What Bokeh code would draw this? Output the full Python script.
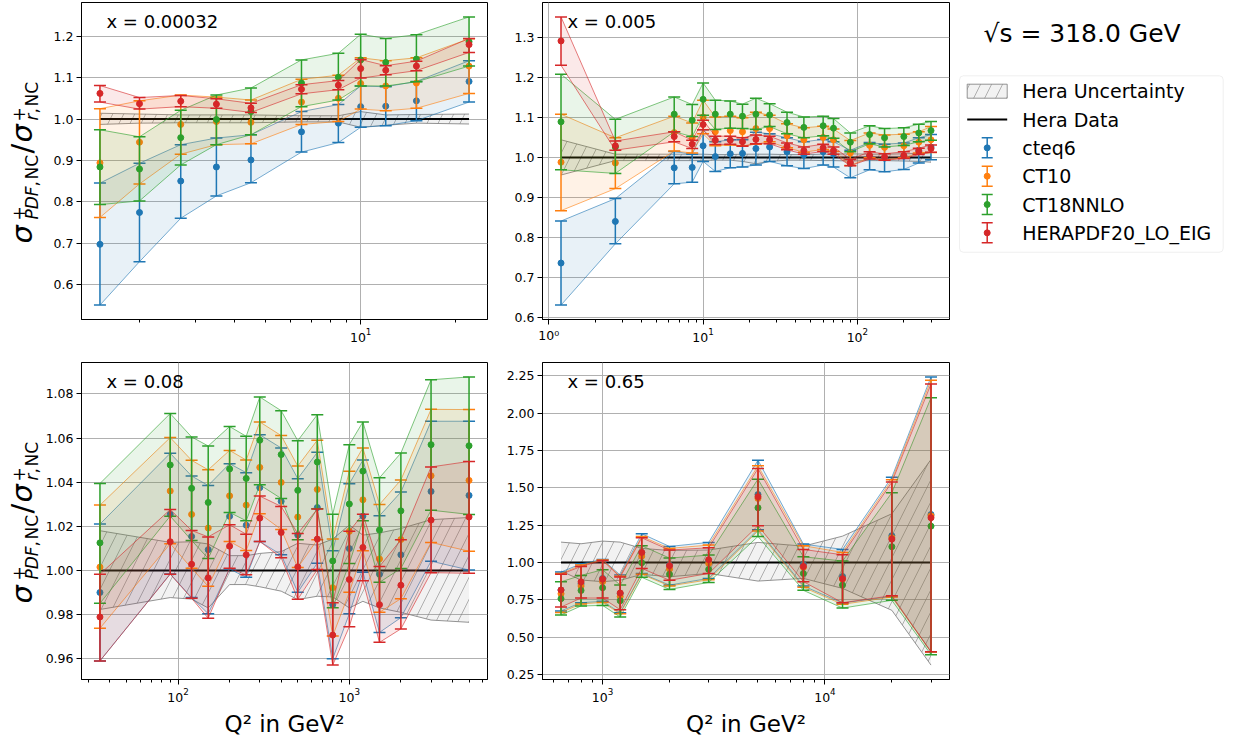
import numpy as np
from bokeh.plotting import figure
from bokeh.layouts import row, column
from bokeh.models import Range1d, FixedTicker, NumeralTickFormatter, Label, BoxAnnotation
from bokeh.embed import file_html
from bokeh.resources import INLINE
from bokeh.core.properties import value

FONT = "DejaVu Sans"
SERIES = ["cteq6", "CT10", "CT18NNLO", "HERAPDF20_LO_EIG"]
SERIES_COLORS = ["#1f77b4", "#ff7f0e", "#2ca02c", "#d62728"]
HERA_LABELS = ["Hera Uncertainty", "Hera Data"]
HERA_DATA_RATIO = 1.0
TITLE = "√s = 318.0 GeV"
XLABEL = "Q² in GeV²"

# ---------------- panel 1 : x = 0.00032 ----------------
P1_X = "x = 0.00032"
P1_Q2 = [1.5, 2, 2.7, 3.5, 4.5, 6.5, 8.5, 10, 12, 15, 22]
P1_HERA_LO = [0.987, 0.990, 0.991, 0.991, 0.991, 0.993, 0.993, 0.980, 0.985, 0.990, 0.988]
P1_HERA_HI = [1.014, 1.012, 1.010, 1.010, 1.010, 1.008, 1.008, 1.018, 1.010, 1.011, 1.012]
P1_CTEQ6 = [0.697, 0.774, 0.850, 0.884, 0.901, 0.969, 0.990, 1.030, 1.031, 1.044, 1.091]
P1_CTEQ6_LO = [0.550, 0.655, 0.760, 0.814, 0.846, 0.920, 0.943, 0.980, 0.984, 0.996, 1.041]
P1_CTEQ6_HI = [0.845, 0.893, 0.938, 0.954, 0.962, 1.018, 1.035, 1.080, 1.078, 1.091, 1.141]
P1_CT10 = [0.894, 0.944, 0.987, 0.994, 0.992, 1.041, 1.050, 1.086, 1.080, 1.087, 1.128]
P1_CT10_LO = [0.762, 0.843, 0.915, 0.938, 0.940, 0.987, 0.994, 1.024, 1.020, 1.026, 1.062]
P1_CT10_HI = [1.025, 1.044, 1.058, 1.053, 1.046, 1.096, 1.106, 1.148, 1.141, 1.148, 1.194]
P1_CT18 = [0.884, 0.879, 0.955, 0.999, 1.018, 1.087, 1.101, 1.143, 1.137, 1.145, 1.187]
P1_CT18_LO = [0.793, 0.802, 0.889, 0.938, 0.962, 1.030, 1.046, 1.080, 1.080, 1.090, 1.128]
P1_CT18_HI = [0.974, 0.957, 1.021, 1.058, 1.075, 1.143, 1.159, 1.205, 1.195, 1.204, 1.247]
P1_HERAPDF = [1.062, 1.037, 1.043, 1.036, 1.027, 1.072, 1.082, 1.122, 1.118, 1.128, 1.180]
P1_HERAPDF_LO = [1.041, 1.024, 1.030, 1.026, 1.016, 1.061, 1.071, 1.099, 1.107, 1.117, 1.161]
P1_HERAPDF_HI = [1.081, 1.052, 1.057, 1.049, 1.038, 1.083, 1.093, 1.144, 1.129, 1.140, 1.195]

# ---------------- panel 2 : x = 0.005 ----------------
P2_X = "x = 0.005"
P2_Q2 = [1.2, 2.7, 6.5, 8.5, 10, 12, 15, 18, 22, 27, 35, 45, 60, 70, 90, 120, 150, 200, 250, 300]
P2_HERA_LO = [0.956, 0.992, 0.992, 0.992, 0.992, 0.993, 0.993, 0.990, 0.984, 0.990,
              0.993, 0.993, 0.992, 0.992, 0.991, 0.992, 0.992, 0.991, 0.990, 0.988]
P2_HERA_HI = [1.044, 1.008, 1.008, 1.008, 1.008, 1.007, 1.007, 1.008, 1.008, 1.008,
              1.007, 1.007, 1.008, 1.008, 1.009, 1.008, 1.008, 1.009, 1.010, 1.012]
P2_CTEQ6 = [0.736, 0.840, 0.974, 0.975, 1.029, 1.002, 1.009, 1.010, 1.022, 1.026,
            1.014, 1.006, 1.014, 1.009, 0.984, 1.003, 0.998, 1.003, 1.018, 1.026]
P2_CTEQ6_LO = [0.631, 0.784, 0.934, 0.938, 0.990, 0.965, 0.974, 0.976, 0.981, 0.990,
               0.979, 0.972, 0.981, 0.976, 0.949, 0.969, 0.964, 0.970, 0.986, 0.994]
P2_CTEQ6_HI = [0.841, 0.897, 1.015, 1.008, 1.069, 1.039, 1.044, 1.044, 1.063, 1.059,
               1.049, 1.039, 1.045, 1.039, 1.018, 1.037, 1.033, 1.036, 1.049, 1.057]
P2_CT10 = [0.988, 0.986, 1.062, 1.049, 1.101, 1.064, 1.067, 1.064, 1.072, 1.072,
           1.054, 1.044, 1.050, 1.044, 1.011, 1.030, 1.025, 1.029, 1.038, 1.044]
P2_CT10_LO = [0.867, 0.922, 1.016, 1.011, 1.059, 1.029, 1.031, 1.029, 1.033, 1.039,
              1.024, 1.013, 1.020, 1.015, 0.980, 0.999, 0.994, 0.999, 1.011, 1.012]
P2_CT10_HI = [1.108, 1.049, 1.103, 1.086, 1.143, 1.101, 1.103, 1.099, 1.113, 1.105,
              1.084, 1.074, 1.078, 1.071, 1.042, 1.061, 1.056, 1.058, 1.064, 1.077]
P2_CT18 = [1.089, 1.026, 1.108, 1.093, 1.145, 1.108, 1.108, 1.103, 1.108, 1.106,
           1.087, 1.075, 1.079, 1.073, 1.038, 1.057, 1.049, 1.052, 1.061, 1.067]
P2_CT18_LO = [0.969, 0.960, 1.064, 1.052, 1.105, 1.070, 1.073, 1.072, 1.070, 1.077,
              1.059, 1.049, 1.054, 1.048, 1.014, 1.034, 1.026, 1.030, 1.039, 1.043]
P2_CT18_HI = [1.208, 1.095, 1.151, 1.132, 1.186, 1.143, 1.141, 1.133, 1.148, 1.134,
              1.113, 1.101, 1.103, 1.097, 1.061, 1.079, 1.072, 1.074, 1.083, 1.090]
P2_HERAPDF = [1.291, 1.029, 1.052, 1.033, 1.082, 1.043, 1.043, 1.039, 1.045, 1.044,
              1.028, 1.017, 1.024, 1.017, 0.987, 1.005, 1.001, 1.005, 1.015, 1.022]
P2_HERAPDF_LO = [1.230, 1.018, 1.039, 1.022, 1.069, 1.032, 1.033, 1.028, 1.034, 1.034,
                 1.019, 1.008, 1.015, 1.008, 0.979, 0.996, 0.993, 0.997, 1.007, 1.013]
P2_HERAPDF_HI = [1.351, 1.041, 1.064, 1.043, 1.093, 1.053, 1.053, 1.049, 1.056, 1.053,
                 1.036, 1.026, 1.033, 1.026, 0.995, 1.014, 1.009, 1.014, 1.023, 1.031]

# ---------------- panel 3 : x = 0.08 ----------------
P3_X = "x = 0.08"
P3_Q2 = [35, 90, 120, 150, 200, 250, 300, 400, 500, 650, 800, 1000, 1200, 1500, 2000, 3000, 5000]
P3_HERA_LO = [0.9823, 0.9877, 0.987, 0.983, 0.9936, 0.9936, 0.9926, 0.9906, 0.9868, 0.9883,
              0.988, 0.983, 0.986, 0.983, 0.981, 0.9775, 0.9765]
P3_HERA_HI = [1.018, 1.0127, 1.013, 1.012, 1.0067, 1.0067, 1.0077, 1.0085, 1.0123, 1.0115,
              1.0142, 1.0206, 1.016, 1.017, 1.019, 1.023, 1.024]
P3_CTEQ6 = [0.990, 1.0254, 1.0154, 1.0094, 1.0245, 1.0205, 1.0375, 1.0313, 1.016, 1.0285,
            0.9845, 1.0099, 1.0246, 0.9983, 1.0071, 1.0358, 1.034]
P3_CTEQ6_LO = [0.959, 0.9984, 0.9877, 0.9804, 1.0006, 0.9969, 1.0131, 1.0071, 0.9901, 1.0033,
               0.960, 0.9804, 0.9992, 0.9719, 0.9786, 1.0042, 1.0002]
P3_CTEQ6_HI = [1.021, 1.0531, 1.0428, 1.0385, 1.0484, 1.0443, 1.0615, 1.0555, 1.0416, 1.0535,
               1.0089, 1.0393, 1.050, 1.0248, 1.0355, 1.0676, 1.0676]
P3_CT10 = [1.0015, 1.036, 1.0254, 1.0192, 1.0338, 1.0296, 1.0467, 1.0399, 1.0242, 1.0367,
           0.9922, 1.0177, 1.032, 1.0052, 1.014, 1.0429, 1.0408]
P3_CT10_LO = [0.9738, 1.0121, 1.001, 0.9928, 1.0131, 1.009, 1.0257, 1.0186, 1.0013, 1.0139,
              0.9703, 0.9901, 1.0089, 0.981, 0.9872, 1.0127, 1.0087]
P3_CT10_HI = [1.0296, 1.0602, 1.0499, 1.0456, 1.0544, 1.050, 1.0673, 1.0611, 1.0473, 1.059,
              1.0142, 1.045, 1.0555, 1.0299, 1.041, 1.073, 1.0729]
P3_CT18 = [1.0125, 1.0478, 1.0372, 1.0308, 1.046, 1.0417, 1.059, 1.0525, 1.0363, 1.0491,
           1.0043, 1.0301, 1.045, 1.0183, 1.027, 1.057, 1.0565]
P3_CT18_LO = [0.9851, 1.0246, 1.0136, 1.0054, 1.0263, 1.0225, 1.0388, 1.0326, 1.0139, 1.0279,
              0.9831, 1.0031, 1.0225, 0.9946, 1.0009, 1.0273, 1.0254]
P3_CT18_HI = [1.0394, 1.0711, 1.0605, 1.0564, 1.0652, 1.0608, 1.0786, 1.0724, 1.0588, 1.0706,
              1.0255, 1.057, 1.0673, 1.042, 1.0532, 1.0864, 1.0877]
P3_HERAPDF = [0.9789, 1.013, 1.0028, 0.9966, 1.011, 1.0071, 1.0237, 1.0172, 1.0016, 1.0142,
              0.9707, 0.9959, 1.0104, 0.9845, 0.9933, 1.0228, 1.0242]
P3_HERAPDF_LO = [0.959, 0.9983, 0.9874, 0.9783, 1.001, 0.998, 1.0131, 1.0058, 0.9869, 1.0004,
                 0.9571, 0.9745, 0.9953, 0.9674, 0.9735, 0.999, 0.9987]
P3_HERAPDF_HI = [0.9983, 1.0276, 1.0181, 1.0152, 1.0207, 1.0164, 1.0337, 1.029, 1.0167, 1.0278,
                 0.9854, 1.0177, 1.0255, 1.0018, 1.0139, 1.0469, 1.0494]

# ---------------- panel 4 : x = 0.65 ----------------
P4_X = "x = 0.65"
P4_Q2 = [650, 800, 1000, 1200, 1500, 2000, 3000, 5000, 8000, 12000, 20000, 30000]
P4_HERA_LO = [0.942, 0.882, 0.871, 0.880, 0.920, 0.904, 0.926, 0.875, 0.893, 0.826, 0.679, 0.312]
P4_HERA_HI = [1.136, 1.125, 1.143, 1.136, 1.094, 1.080, 1.083, 1.134, 1.109, 1.176, 1.326, 1.690]
P4_CTEQ6 = [0.815, 0.857, 0.893, 0.792, 1.065, 0.982, 1.009, 1.455, 0.987, 0.906, 1.179, 1.321]
P4_CTEQ6_LO = [0.675, 0.730, 0.739, 0.663, 0.926, 0.848, 0.893, 1.219, 0.842, 0.728, 0.772, 0.400]
P4_CTEQ6_HI = [0.935, 0.991, 1.020, 0.915, 1.192, 1.107, 1.134, 1.685, 1.123, 1.087, 1.571, 2.243]
P4_CT10 = [0.790, 0.842, 0.871, 0.772, 1.042, 0.955, 0.993, 1.429, 0.967, 0.888, 1.165, 1.312]
P4_CT10_LO = [0.665, 0.722, 0.732, 0.656, 0.920, 0.842, 0.884, 1.210, 0.833, 0.719, 0.768, 0.400]
P4_CT10_HI = [0.925, 0.982, 1.016, 0.908, 1.174, 1.094, 1.116, 1.647, 1.112, 1.067, 1.554, 2.221]
P4_CT18 = [0.757, 0.812, 0.830, 0.743, 0.998, 0.920, 0.953, 1.366, 0.926, 0.848, 1.105, 1.243]
P4_CT18_LO = [0.648, 0.708, 0.712, 0.634, 0.900, 0.819, 0.866, 1.174, 0.813, 0.694, 0.746, 0.382]
P4_CT18_HI = [0.870, 0.913, 0.951, 0.848, 1.112, 1.029, 1.049, 1.558, 1.038, 1.009, 1.467, 2.103]
P4_HERAPDF = [0.815, 0.870, 0.888, 0.795, 1.067, 0.978, 1.018, 1.440, 0.973, 0.891, 1.156, 1.299]
P4_HERAPDF_LO = [0.701, 0.761, 0.761, 0.683, 0.960, 0.880, 0.926, 1.246, 0.871, 0.730, 0.777, 0.402]
P4_HERAPDF_HI = [0.920, 0.973, 1.013, 0.902, 1.165, 1.083, 1.098, 1.629, 1.087, 1.051, 1.538, 2.196]

# ---------------- layout constants ----------------
FRAME_H = 317
TOP_BORDER = 2
MID_BORDER = 43
BOTTOM_BORDER = 61
YLAB_W = 42
LEG_W = 287
TICK_FONT = "12.5px"

# pieces of the y-axis label: (text, style, size, centre x, start offset from frame bottom)
YL_MAIN = "29px"
YL_SUB = "17px"
YLABEL_PIECES = [
    ("σ", "italic", YL_MAIN, 21, 76),
    ("+", "normal", YL_SUB, 18, 99),
    ("PDF", "italic", YL_SUB, 31, 100),
    (",\u200aNC", "normal", YL_SUB, 31, 133),
    ("/", "normal", YL_MAIN, 21, 166),
    ("σ", "italic", YL_MAIN, 21, 177),
    ("+", "normal", YL_SUB, 18, 198),
    ("r", "italic", YL_SUB, 31, 199),
    (",\u200aNC", "normal", YL_SUB, 31, 206),
]


def log_limits(q2):
    lo, hi = np.log10(min(q2)), np.log10(max(q2))
    m = 0.05 * (hi - lo)
    return 10 ** (lo - m), 10 ** (hi + m)


def lin_limits(arrays):
    lo = min(min(a) for a in arrays)
    hi = max(max(a) for a in arrays)
    m = 0.05 * (hi - lo)
    return lo - m, hi + m


def make_ylabel_fig(top, bottom):
    f = figure(frame_width=YLAB_W, frame_height=FRAME_H, min_border=0, min_border_left=0,
               min_border_right=0, min_border_top=top, min_border_bottom=bottom,
               x_range=Range1d(0, 1), y_range=Range1d(0, 1),
               x_axis_location=None, y_axis_location=None,
               output_backend="svg", toolbar_location=None)
    f.grid.visible = False
    f.outline_line_color = None
    for txt, style, size, xo, yo in YLABEL_PIECES:
        f.add_layout(Label(x=xo, y=yo, x_units="screen", y_units="screen", text=txt,
                           angle=np.pi / 2, text_font=FONT, text_font_style=style,
                           text_font_size=size, text_color="black",
                           text_align="left", text_baseline="middle"))
    return f


def make_panel(q2, hera_lo, hera_hi, series, xtext, ystep, yfmt, left, top, bottom,
               frame_w, show_xlabel):
    xlo, xhi = log_limits(q2)
    ylo, yhi = lin_limits([hera_lo, hera_hi] + [s[1] for s in series] + [s[2] for s in series])
    p = figure(x_axis_type="log", x_range=Range1d(xlo, xhi), y_range=Range1d(ylo, yhi),
               frame_width=frame_w, frame_height=FRAME_H, min_border=0,
               min_border_left=left, min_border_right=1, min_border_top=top,
               min_border_bottom=bottom, output_backend="svg", toolbar_location=None,
               background_fill_color="white", border_fill_color="white")
    e0, e1 = int(np.floor(np.log10(xlo))), int(np.ceil(np.log10(xhi)))
    majors = [10.0 ** e for e in range(e0, e1 + 1) if xlo <= 10.0 ** e <= xhi]
    minors = [m * 10.0 ** e for e in range(e0, e1 + 1) for m in range(2, 10)
              if xlo <= m * 10.0 ** e <= xhi]
    p.xaxis.ticker = FixedTicker(ticks=majors, minor_ticks=minors)
    if 1.0 in majors:
        p.xaxis.major_label_overrides = {1.0: "10⁰"}
    yt = np.round(np.arange(np.ceil(ylo / ystep) * ystep, yhi + 1e-9, ystep), 6)
    p.yaxis.ticker = FixedTicker(ticks=list(yt))
    p.yaxis.formatter = NumeralTickFormatter(format=yfmt)
    for ax in (p.xaxis[0], p.yaxis[0]):
        ax.major_label_text_font = FONT
        ax.major_label_text_font_size = TICK_FONT
        ax.major_label_text_color = "black"
        ax.axis_line_color = "black"
        ax.major_tick_line_color = "black"
        ax.minor_tick_line_color = "black"
        ax.major_tick_out = 5
        ax.major_tick_in = 0
        ax.minor_tick_out = 3
        ax.minor_tick_in = 0
        ax.major_label_standoff = 3
    p.yaxis.minor_tick_line_color = None
    p.grid.grid_line_color = "#b0b0b0"
    p.grid.grid_line_width = 1
    p.outline_line_color = "black"
    p.outline_line_width = 1
    p.outline_line_alpha = 1

    # Hera uncertainty band and data
    p.varea(x=q2, y1=hera_lo, y2=hera_hi, fill_color="grey", fill_alpha=0.1,
            hatch_pattern="/", hatch_color="grey", hatch_alpha=0.6, hatch_scale=22,
            hatch_weight=1)
    p.line(q2, hera_lo, line_color="grey", line_alpha=0.85, line_width=1)
    p.line(q2, hera_hi, line_color="grey", line_alpha=0.85, line_width=1)
    p.line(q2, [HERA_DATA_RATIO] * len(q2), line_color="black", line_width=2)

    # PDF predictions
    for (c, lo, hi), col in zip(series, SERIES_COLORS):
        p.varea(x=q2, y1=lo, y2=hi, fill_color=col, fill_alpha=0.1)
        p.line(q2, lo, line_color=col, line_alpha=0.6, line_width=1)
        p.line(q2, hi, line_color=col, line_alpha=0.6, line_width=1)
        p.segment(x0=q2, y0=lo, x1=q2, y1=hi, line_color=col, line_width=1.5)
        p.scatter(list(q2) + list(q2), list(lo) + list(hi), marker="dash", size=12,
                  line_color=col, line_width=1.5)
        p.scatter(q2, c, marker="circle", size=6, fill_color=col, line_color=col)

    p.add_layout(Label(x=25, y=FRAME_H - 19, x_units="screen", y_units="screen", text=xtext,
                       text_font=FONT, text_font_size="18px", text_color="black",
                       text_baseline="middle"))
    if show_xlabel:
        p.xaxis.axis_label = XLABEL
        p.xaxis.axis_label_text_font = FONT
        p.xaxis.axis_label_text_font_size = "23px"
        p.xaxis.axis_label_text_font_style = "normal"
        p.xaxis.axis_label_text_color = "black"
        p.xaxis.axis_label_standoff = 6
    return p


p1 = make_panel(P1_Q2, P1_HERA_LO, P1_HERA_HI,
                [(P1_CTEQ6, P1_CTEQ6_LO, P1_CTEQ6_HI), (P1_CT10, P1_CT10_LO, P1_CT10_HI),
                 (P1_CT18, P1_CT18_LO, P1_CT18_HI), (P1_HERAPDF, P1_HERAPDF_LO, P1_HERAPDF_HI)],
                P1_X, 0.1, "0.0", 81 - YLAB_W, TOP_BORDER, MID_BORDER, 406, False)
p2 = make_panel(P2_Q2, P2_HERA_LO, P2_HERA_HI,
                [(P2_CTEQ6, P2_CTEQ6_LO, P2_CTEQ6_HI), (P2_CT10, P2_CT10_LO, P2_CT10_HI),
                 (P2_CT18, P2_CT18_LO, P2_CT18_HI), (P2_HERAPDF, P2_HERAPDF_LO, P2_HERAPDF_HI)],
                P2_X, 0.1, "0.0", 54, TOP_BORDER, MID_BORDER, 407, False)
p3 = make_panel(P3_Q2, P3_HERA_LO, P3_HERA_HI,
                [(P3_CTEQ6, P3_CTEQ6_LO, P3_CTEQ6_HI), (P3_CT10, P3_CT10_LO, P3_CT10_HI),
                 (P3_CT18, P3_CT18_LO, P3_CT18_HI), (P3_HERAPDF, P3_HERAPDF_LO, P3_HERAPDF_HI)],
                P3_X, 0.02, "0.00", 81 - YLAB_W, 0, BOTTOM_BORDER, 406, True)
p4 = make_panel(P4_Q2, P4_HERA_LO, P4_HERA_HI,
                [(P4_CTEQ6, P4_CTEQ6_LO, P4_CTEQ6_HI), (P4_CT10, P4_CT10_LO, P4_CT10_HI),
                 (P4_CT18, P4_CT18_LO, P4_CT18_HI), (P4_HERAPDF, P4_HERAPDF_LO, P4_HERAPDF_HI)],
                P4_X, 0.25, "0.00", 54, 0, BOTTOM_BORDER, 407, True)

yl1 = make_ylabel_fig(TOP_BORDER, MID_BORDER)
yl3 = make_ylabel_fig(0, BOTTOM_BORDER)

# ---------------- legend + title panel ----------------
ROW0_PX = 90.7       # pixel position (from top of page) of the first legend row
ROW_STEP_PX = 28.33  # pixel distance between legend rows
LEGEND_LABELS = HERA_LABELS + SERIES
rows = list(range(len(LEGEND_LABELS)))
FRAME_TOP_PX = TOP_BORDER
FRAME_BOT_PX = TOP_BORDER + FRAME_H
pl = figure(frame_width=LEG_W, frame_height=FRAME_H, min_border=0, min_border_left=0,
            min_border_right=0, min_border_top=TOP_BORDER, min_border_bottom=MID_BORDER,
            x_range=Range1d(0, LEG_W),
            y_range=Range1d((FRAME_BOT_PX - ROW0_PX) / ROW_STEP_PX,
                            (FRAME_TOP_PX - ROW0_PX) / ROW_STEP_PX),
            x_axis_location=None, y_axis_location=None,
            output_backend="svg", toolbar_location=None)
pl.grid.visible = False
pl.outline_line_color = None
SAMPLE_L, SAMPLE_R = 16.7, 56.7
SAMPLE_C = (SAMPLE_L + SAMPLE_R) / 2
PATCH_H = 7 / ROW_STEP_PX
BAR_H = 10 / ROW_STEP_PX
TEXT_X = 71.7

pl.add_layout(BoxAnnotation(left=9, right=272.7, top=rows[0] - 15.4 / ROW_STEP_PX,
                            bottom=rows[-1] + 19.4 / ROW_STEP_PX, fill_color="white",
                            fill_alpha=0.8, line_color="#cccccc", line_width=1,
                            border_radius=4, level="underlay"))
pl.quad(left=[SAMPLE_L], right=[SAMPLE_R], bottom=[rows[0] + PATCH_H], top=[rows[0] - PATCH_H],
        fill_color="grey", fill_alpha=0.1, line_color="grey", line_alpha=0.85,
        hatch_pattern="/", hatch_color="grey", hatch_alpha=0.6, hatch_scale=22, hatch_weight=1)
pl.segment(x0=[SAMPLE_L], x1=[SAMPLE_R], y0=[rows[1]], y1=[rows[1]], line_color="black", line_width=2)
for r, col in zip(rows[2:], SERIES_COLORS):
    pl.segment(x0=[SAMPLE_C], x1=[SAMPLE_C], y0=[r - BAR_H], y1=[r + BAR_H], line_color=col, line_width=1.5)
    pl.scatter([SAMPLE_C, SAMPLE_C], [r - BAR_H, r + BAR_H], marker="dash", size=11,
               line_color=col, line_width=1.5)
    pl.scatter([SAMPLE_C], [r], marker="circle", size=6, fill_color=col, line_color=col)
pl.text(x=[TEXT_X] * len(rows), y=rows, text=LEGEND_LABELS, text_font=value(FONT),
        text_font_size="19px", text_color="black", text_baseline="middle", text_align="left")
pl.add_layout(Label(x=33, y=(33 - ROW0_PX) / ROW_STEP_PX, text=TITLE, text_font=FONT,
                    text_font_size="25px", text_color="black", text_baseline="middle"))

layout = column(row(yl1, p1, p2, pl, spacing=0), row(yl3, p3, p4, spacing=0), spacing=0)
open("out.html", "w").write(file_html(layout, INLINE))
